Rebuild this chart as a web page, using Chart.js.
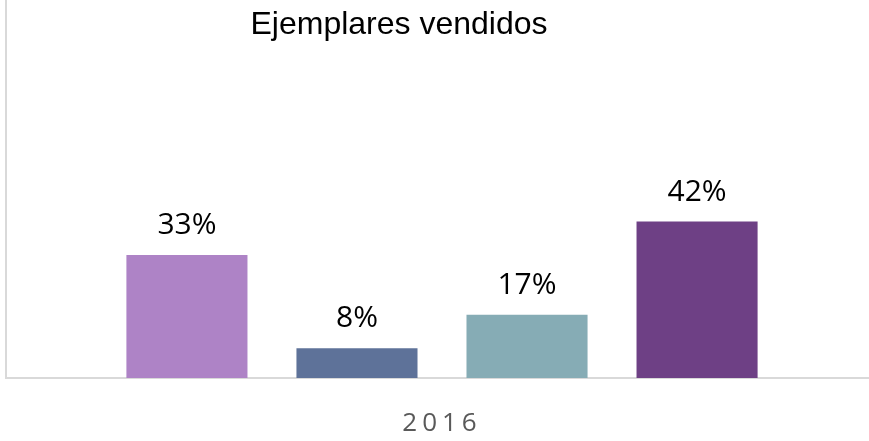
<!DOCTYPE html>
<html>
<head>
<meta charset="utf-8">
<script src="https://cdn.jsdelivr.net/npm/chart.js@4/dist/chart.umd.min.js"></script>
<style>
  html, body { margin: 0; padding: 0; background: #ffffff; overflow: hidden; }
  #wrap { position: relative; width: 869px; height: 441px; overflow: hidden; }
  #c { display: block; }
</style>
</head>
<body>
<div id="wrap"><canvas id="c" width="878" height="441"></canvas></div>
<script>
const chartTitle = "Ejemplares vendidos";
const categories = ["2016"];
const seriesNames = ["Serie 1", "Serie 2", "Serie 3", "Serie 4"];
const seriesValues = [0.33, 0.08, 0.17, 0.42];
const seriesLabels = ["33%", "8%", "17%", "42%"];
const seriesColors = ["#AE83C6", "#5E7299", "#86ACB5", "#6E4085"];

const datasets = seriesNames.map((name, i) => ({
  label: name,
  data: [seriesValues[i]],
  backgroundColor: seriesColors[i],
  borderWidth: 0,
  barPercentage: 0.712,
  categoryPercentage: 0.78
}));

const overlay = {
  id: 'overlay',
  beforeDraw(chart) { chart.ctx.letterSpacing = '5px'; },
  beforeDatasetsDraw(chart) { chart.ctx.letterSpacing = '0px'; },
  afterDraw(chart) {
    const ctx = chart.ctx;
    ctx.save();
    ctx.letterSpacing = '0px';
    ctx.fillStyle = '#000000';
    ctx.textAlign = 'center';
    ctx.textBaseline = 'alphabetic';
    ctx.font = '30px "Open Sans"';
    chart.data.datasets.forEach((ds, i) => {
      const bar = chart.getDatasetMeta(i).data[0];
      ctx.fillText(seriesLabels[i], bar.x, bar.y - 21);
    });
    ctx.font = '32px "Liberation Sans"';
    ctx.fillText(chartTitle, 399, 34);
    ctx.restore();
  }
};

new Chart(document.getElementById('c'), {
  type: 'bar',
  data: { labels: categories, datasets: datasets },
  options: {
    responsive: false,
    animation: false,
    devicePixelRatio: 1,
    layout: { padding: { left: 6, right: 0, top: 0, bottom: 0 } },
    plugins: { legend: { display: false }, tooltip: { enabled: false }, title: { display: false } },
    scales: {
      x: {
        grid: { display: false },
        border: { display: true, color: '#D9D9D9', width: 2 },
        ticks: { color: '#595959', font: { family: 'Open Sans', size: 26 }, padding: 22 },
        afterFit(scale) { scale.height = 63; }
      },
      y: {
        min: 0, max: 1.015,
        grid: { display: false },
        ticks: { display: false },
        border: { display: true, color: '#D9D9D9', width: 2 },
        afterFit(scale) { scale.width = 0; }
      }
    }
  },
  plugins: [overlay]
});
</script>
</body>
</html>
